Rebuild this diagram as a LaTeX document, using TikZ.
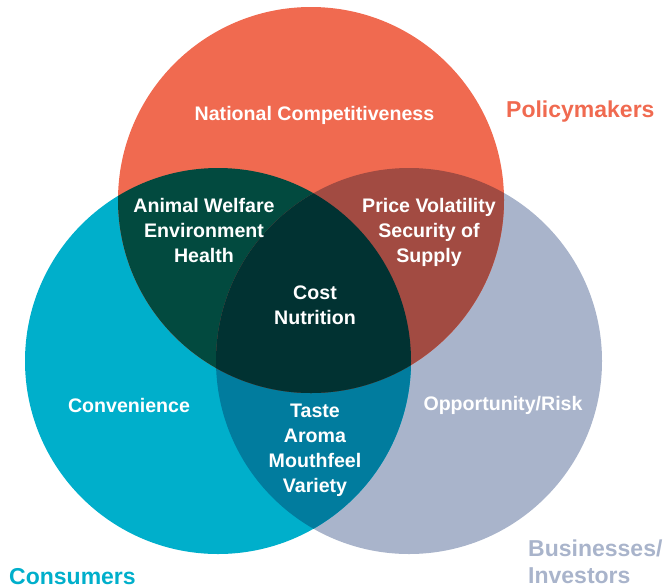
\documentclass[tikz,border=0pt]{standalone}
\usepackage{fontspec}
\setmainfont{Liberation Sans}
\definecolor{cred}{HTML}{F06A50}
\definecolor{cteal}{HTML}{00AFCB}
\definecolor{cgrey}{HTML}{A9B4CB}
\definecolor{ctealred}{HTML}{024A3F}
\definecolor{credgrey}{HTML}{A24B42}
\definecolor{ctealgrey}{HTML}{017C9E}
\definecolor{call}{HTML}{013232}
\begin{document}
\begin{tikzpicture}[x=1pt,y=-1pt,
  inner/.style={text=white,font=\fontsize{19.6}{25}\selectfont\bfseries,align=center,inner sep=0pt},
  group/.style={font=\fontsize{23}{27}\selectfont\bfseries,align=left,inner sep=0pt}]
\useasboundingbox (0,0) rectangle (663,587);
\coordinate (R) at (311,200);
\coordinate (T) at (218,361);
\coordinate (G) at (409,361);
\def\rad{193}
% base circles
\fill[cgrey] (G) circle (\rad);
\fill[cteal] (T) circle (\rad);
\fill[cred] (R) circle (\rad);
% pairwise intersections
\begin{scope}
  \clip (T) circle (\rad);
  \fill[ctealgrey] (G) circle (\rad);
\end{scope}
\begin{scope}
  \clip (R) circle (\rad);
  \fill[ctealred] (T) circle (\rad);
\end{scope}
\begin{scope}
  \clip (R) circle (\rad);
  \fill[credgrey] (G) circle (\rad);
\end{scope}
\begin{scope}
  \clip (R) circle (\rad);
  \clip (T) circle (\rad);
  \fill[call] (G) circle (\rad);
\end{scope}
% labels
\node[inner] (nat) at (314.5,115) {National Competitiveness};
\node[inner] (anim) at (204,230) {Animal Welfare\\Environment\\Health};
\node[inner] (price) at (429,232) {Price Volatility\\Security of\\Supply};
\node[inner] (cost) at (315,305) {Cost\\Nutrition};
\node[inner] (conv) at (129,405) {Convenience};
\node[inner] (taste) at (315,450) {Taste\\Aroma\\Mouthfeel\\Variety};
\node[inner] (opp) at (503,405) {Opportunity/Risk};
\node[group,text=cred,anchor=base west] (pol) at (506,117) {Policymakers};
\node[group,text=cteal,anchor=base west] (cons) at (9,584) {Consumers};
\node[group,text=cgrey,anchor=base west] (bus) at (528,583) {Businesses/\\Investors};
\end{tikzpicture}
\end{document}
